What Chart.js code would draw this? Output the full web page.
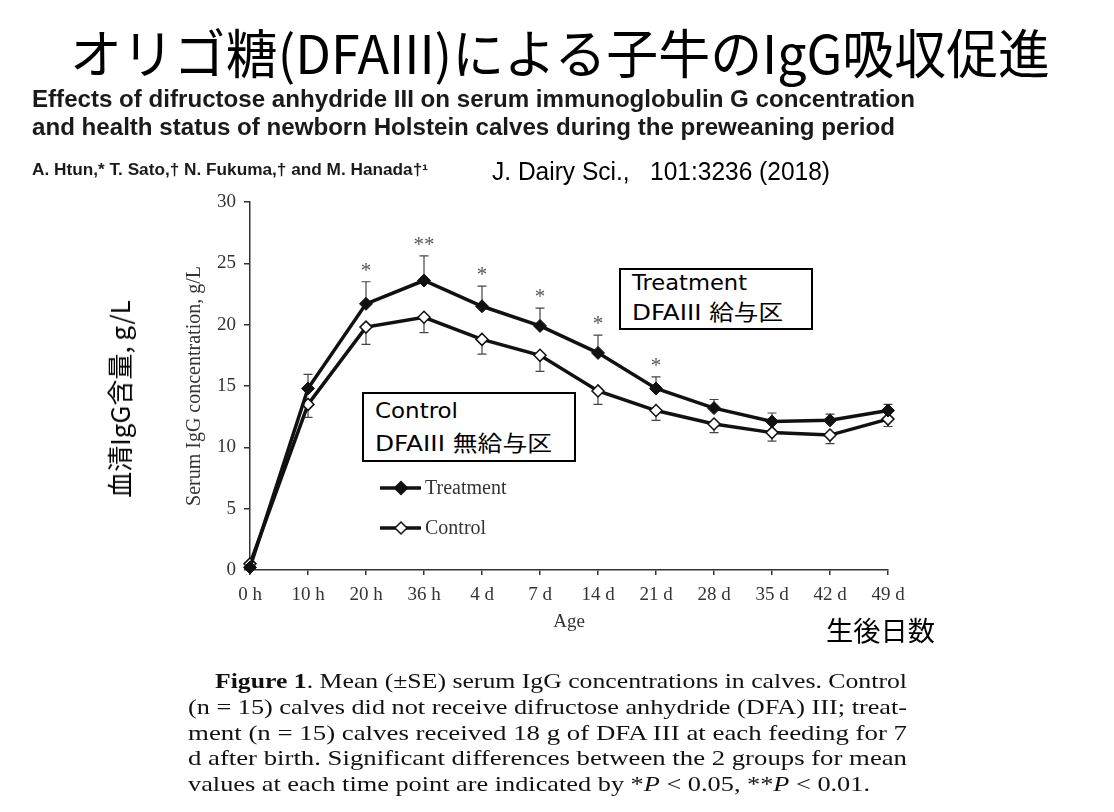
<!DOCTYPE html>
<html lang="ja">
<head>
<meta charset="UTF-8">
<title>オリゴ糖(DFAIII)による子牛のIgG吸収促進</title>
<script src="https://cdn.jsdelivr.net/npm/chart.js@4.4.0/dist/chart.umd.min.js"></script>
<style>
    html, body { margin: 0; padding: 0; background: #fff; }
    body {
        width: 1114px; height: 812px; position: relative; overflow: hidden;
        font-family: 'DejaVu Sans', 'Noto Sans CJK JP', sans-serif; color: #000;
    }
    #chartBox { position: absolute; left: 0; top: 0; width: 1114px; height: 812px; }
    .t { position: absolute; white-space: nowrap; line-height: 1; transform-origin: 0 0; }
    .title { font-family: 'Noto Sans CJK JP', sans-serif; font-size: 53px; }
    .paper { font-family: 'Liberation Sans', Arial, sans-serif; font-weight: bold; color: #1a1a1a; }
    .cap { font-family: 'Liberation Serif', serif; font-size: 21px; color: #111; }
    .box { position: absolute; border: 2px solid #000; box-sizing: border-box; background: #fff; }
    .boxtxt { font-size: 22px; }
    .jp { font-family: 'Noto Sans CJK JP', sans-serif; }
</style>
</head>
<body>
<div id="chartBox"><canvas id="igg"></canvas></div>

<div class="t title" style="left:70px; top:25px;" data-w="980">オリゴ糖(DFAIII)による子牛のIgG吸収促進</div>
<div class="t paper" style="left:32px; top:88px; font-size:23px;" data-w="883">Effects of difructose anhydride III on serum immunoglobulin G concentration</div>
<div class="t paper" style="left:32px; top:116px; font-size:23px;" data-w="863">and health status of newborn Holstein calves during the preweaning period</div>
<div class="t paper" style="left:32px; top:162px; font-size:16px;" data-w="396">A. Htun,* T. Sato,† N. Fukuma,† and M. Hanada†¹</div>
<div class="t" style="left:492px; top:159px; font-size:25px; font-family:'Liberation Sans', sans-serif;" data-w="338">J. Dairy Sci.,&nbsp;&nbsp; 101:3236 (2018)</div>

<div class="t jp" style="left:119px; top:399px; font-size:26px; transform-origin:50% 50%; transform:translate(-50%,-50%) rotate(-90deg);">血清IgG含量, g/L</div>

<div class="box" style="left:619px; top:268px; width:194px; height:62px;"></div>
<div class="t boxtxt" style="left:632px; top:272px;" data-w="115">Treatment</div>
<div class="t boxtxt" style="left:632px; top:302px;" data-w="151">DFAIII 給与区</div>

<div class="box" style="left:362px; top:392px; width:214px; height:70px;"></div>
<div class="t boxtxt" style="left:375px; top:400px;" data-w="83">Control</div>
<div class="t boxtxt" style="left:375px; top:433px;" data-w="177">DFAIII 無給与区</div>

<div class="t jp" style="left:826px; top:616px; font-size:27px;" data-w="109">生後日数</div>

<div class="t cap" style="left:215px; top:671px;" data-w="692"><b>Figure 1</b>. Mean (±SE) serum IgG concentrations in calves. Control</div>
<div class="t cap" style="left:188px; top:697px;" data-w="719">(n = 15) calves did not receive difructose anhydride (DFA) III; treat-</div>
<div class="t cap" style="left:188px; top:723px;" data-w="719">ment (n = 15) calves received 18 g of DFA III at each feeding for 7</div>
<div class="t cap" style="left:188px; top:748px;" data-w="719">d after birth. Significant differences between the 2 groups for mean</div>
<div class="t cap" style="left:188px; top:774px;" data-w="682">values at each time point are indicated by *<i>P</i> &lt; 0.05, **<i>P</i> &lt; 0.01.</div>

<script>
    // 読み取り値 (g/L)
    const ages = ['0 h', '10 h', '20 h', '36 h', '4 d', '7 d', '14 d', '21 d', '28 d', '35 d', '42 d', '49 d'];
    const treatment = [0.2, 14.8, 21.7, 23.6, 21.5, 19.9, 17.7, 14.8, 13.2, 12.1, 12.2, 13.0];
    const treatmentSE = [0, 1.15, 1.8, 2.0, 1.65, 1.45, 1.45, 0.95, 0.7, 0.7, 0.5, 0.5];
    const control = [0.5, 13.5, 19.8, 20.6, 18.8, 17.5, 14.6, 13.0, 11.9, 11.2, 11.0, 12.3];
    const controlSE = [0, 1.05, 1.4, 1.25, 1.2, 1.3, 1.1, 0.8, 0.7, 0.7, 0.7, 0.6];
    const signif = ['', '', '*', '**', '*', '*', '*', '*', '', '', '', ''];
    const yMin = 0, yMax = 30, yStep = 5;

    const serif = 'Liberation Serif';
    const ink = '#333';

    function diamond(ctx, x, y, r, fill) {
        ctx.beginPath();
        ctx.moveTo(x - r, y);
        ctx.lineTo(x, y - r);
        ctx.lineTo(x + r, y);
        ctx.lineTo(x, y + r);
        ctx.closePath();
        ctx.fillStyle = fill;
        ctx.fill();
        ctx.lineWidth = 1.5;
        ctx.strokeStyle = '#111';
        ctx.stroke();
    }

    // 誤差棒 (Treatment は上側, Control は下側)
    const errorBars = {
        id: 'errorBars',
        beforeDatasetsDraw(chart) {
            const { ctx, scales: { x, y } } = chart;
            ctx.save();
            ctx.strokeStyle = '#444';
            ctx.lineWidth = 1.2;
            const bar = (i, v, d) => {
                if (!d) return;
                const px = x.getPixelForValue(i);
                const p0 = y.getPixelForValue(v);
                const p1 = y.getPixelForValue(v + d);
                ctx.beginPath();
                ctx.moveTo(px, p0); ctx.lineTo(px, p1);
                ctx.moveTo(px - 4.5, p1); ctx.lineTo(px + 4.5, p1);
                ctx.stroke();
            };
            ages.forEach((a, i) => {
                bar(i, treatment[i], treatmentSE[i]);
                bar(i, control[i], -controlSE[i]);
            });
            ctx.restore();
        },
        afterDraw(chart) {
            const { ctx, chartArea, scales: { x, y } } = chart;
            ctx.save();
            // 有意差の印
            ctx.font = '21px ' + serif;
            ctx.fillStyle = '#555';
            ctx.textAlign = 'center';
            ctx.textBaseline = 'alphabetic';
            signif.forEach((s, i) => {
                if (!s) return;
                const top = y.getPixelForValue(treatment[i] + treatmentSE[i]);
                ctx.fillText(s, x.getPixelForValue(i), top - 5);
            });
            // 凡例
            const lx = chartArea.left + 130;
            const rows = [
                { label: 'Treatment', fill: '#111', r: 6.5, dy: 286 },
                { label: 'Control', fill: '#fff', r: 6, dy: 326 }
            ];
            rows.forEach(row => {
                const ly = chartArea.top + row.dy;
                ctx.strokeStyle = '#111';
                ctx.lineWidth = 3.5;
                ctx.beginPath();
                ctx.moveTo(lx, ly); ctx.lineTo(lx + 41, ly);
                ctx.stroke();
                diamond(ctx, lx + 21, ly, row.r, row.fill);
                ctx.fillStyle = ink;
                ctx.font = '20px ' + serif;
                ctx.textAlign = 'left';
                ctx.textBaseline = 'middle';
                ctx.fillText(row.label, lx + 45, ly + 1);
            });
            ctx.restore();
        }
    };

    const chart = new Chart(document.getElementById('igg'), {
        type: 'line',
        data: {
            labels: ages,
            datasets: [{
                label: 'Treatment',
                data: treatment,
                borderColor: '#111',
                borderWidth: 3.5,
                pointStyle: 'rectRot',
                pointRadius: 6.5,
                pointBackgroundColor: '#111',
                pointBorderColor: '#111',
                pointBorderWidth: 1,
                tension: 0,
                clip: false
            }, {
                label: 'Control',
                data: control,
                borderColor: '#111',
                borderWidth: 3.5,
                pointStyle: 'rectRot',
                pointRadius: 6,
                pointBackgroundColor: '#fff',
                pointBorderColor: '#111',
                pointBorderWidth: 1.5,
                tension: 0,
                clip: false
            }]
        },
        options: {
            responsive: true,
            maintainAspectRatio: false,
            animation: false,
            layout: { padding: { left: 150, right: 226, top: 202, bottom: 172 } },
            plugins: { legend: { display: false }, tooltip: { enabled: false } },
            scales: {
                x: {
                    offset: false,
                    afterFit: s => { s.height = 70; },
                    border: { color: ink, width: 1.5 },
                    grid: { drawOnChartArea: false, tickLength: 5, color: ink, lineWidth: 1.5 },
                    ticks: { color: ink, font: { family: serif, size: 19 }, padding: 9, maxRotation: 0, autoSkip: false },
                    title: { display: true, text: 'Age', color: ink, font: { family: serif, size: 19 }, padding: { bottom: 7 } }
                },
                y: {
                    min: yMin,
                    max: yMax,
                    afterFit: s => { s.width = 100; },
                    border: { color: ink, width: 1.5 },
                    grid: { drawOnChartArea: false, tickLength: 6, color: ink, lineWidth: 1.5 },
                    ticks: { stepSize: yStep, color: ink, font: { family: serif, size: 19 }, padding: 8 },
                    title: { display: true, text: 'Serum IgG concentration, g/L', color: ink, font: { family: serif, size: 20 }, padding: { top: 33 } }
                }
            }
        },
        plugins: [errorBars]
    });

    function fitText() {
        document.querySelectorAll('[data-w]').forEach(el => {
            el.style.transform = 'none';
            const w = el.getBoundingClientRect().width;
            el.style.transform = 'scaleX(' + (parseFloat(el.dataset.w) / w) + ')';
        });
    }
    fitText();
    if (document.fonts) document.fonts.ready.then(fitText);
</script>
</body>
</html>
